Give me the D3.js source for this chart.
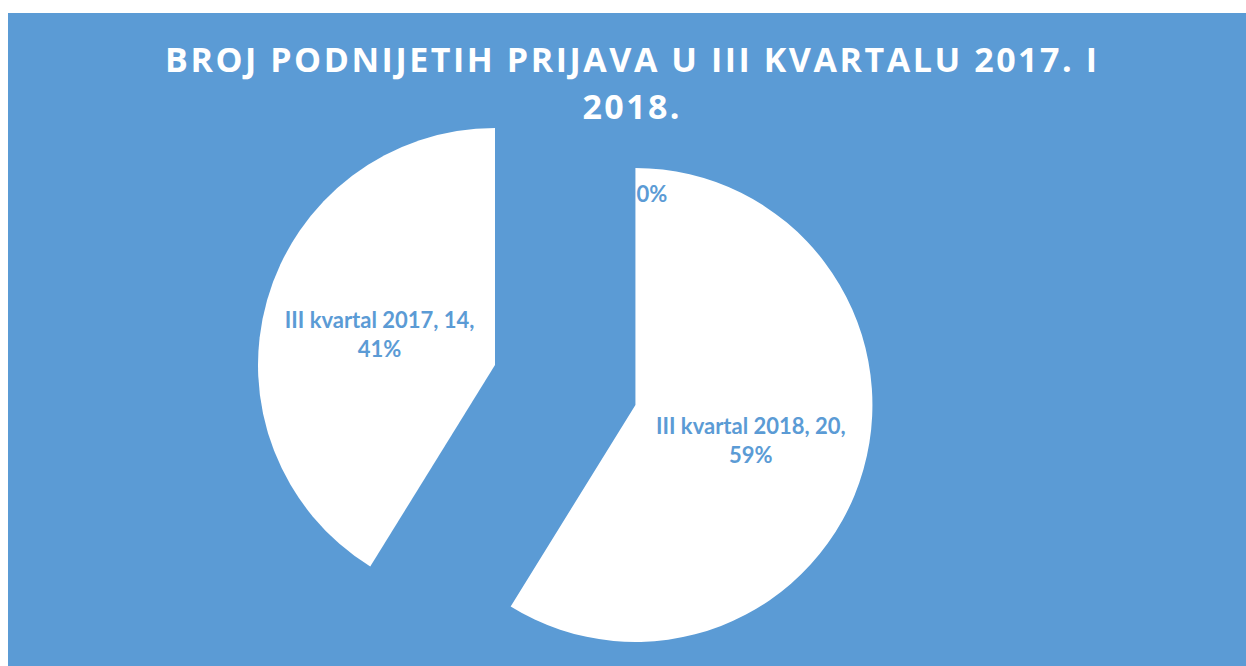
<!DOCTYPE html>
<html>
<head>
<meta charset="utf-8">
<script src="https://cdn.jsdelivr.net/npm/d3@7"></script>
<style>
  body { margin: 0; background: #fff; }
  svg { display: block; }
  .title { font-family: "Open Sans", sans-serif; font-weight: 700; fill: #fff; }
  .lbl { font-family: Lato, "Open Sans", sans-serif; font-weight: 700; fill: #5b9bd5; }
</style>
</head>
<body>
<div id="chart"></div>
<script>
// data, in drawing order (clockwise from 12 o'clock)
const categories = ["", "III kvartal 2018", "III kvartal 2017"];
const values = [0, 20, 14];
const titleLines = ["BROJ PODNIJETIH PRIJAVA U III KVARTALU 2017. I", "2018."];

const W = 1246, H = 666,
    blue = "#5b9bd5",
    center = { x: 495, y: 365 },
    radius = 237,
    explode = [146, 146, 0], // px, per slice
    fontSize = 22;

const formatPct = d3.format(".0%");
const total = d3.sum(values);

const svg = d3.select("#chart").append("svg")
    .attr("width", W)
    .attr("height", H);

// chart area
svg.append("rect")
    .attr("x", 8).attr("y", 13)
    .attr("width", W - 8).attr("height", H - 13)
    .attr("fill", blue);

// title
svg.selectAll("text.title")
    .data(titleLines)
    .join("text")
    .attr("class", "title")
    .attr("x", 631)
    .attr("y", (d, i) => 72 + i * 47)
    .attr("text-anchor", "middle")
    .attr("font-size", 34)
    .attr("textLength", (d, i) => i === 0 ? 932 : 97)
    .attr("lengthAdjust", "spacing")
    .text(d => d);

const pie = d3.pie().sort(null).value(d => d.value);
const rows = categories.map((c, i) => ({ cat: c, value: values[i], idx: i }));
const arcs = pie(rows);

const arc = d3.arc().innerRadius(0).outerRadius(radius);
const labelArc = d3.arc().innerRadius(120).outerRadius(120);

// an empty slice moves along with the slice that follows it
const offset = d => {
    const ref = d.value > 0 ? d : arcs[d.index + 1];
    const a = (ref.startAngle + ref.endAngle) / 2, e = explode[d.data.idx];
    return [center.x + Math.sin(a) * e, center.y - Math.cos(a) * e];
};

// slices
svg.append("g")
    .selectAll("path.slice")
    .data(arcs.filter(d => d.value > 0))
    .join("path")
    .attr("class", "slice")
    .attr("transform", d => `translate(${offset(d)})`)
    .attr("d", arc)
    .attr("fill", "#fff");

// labels, on top of all slices
const labels = svg.append("g")
    .selectAll("g.label")
    .data(arcs)
    .join("g")
    .attr("class", "label")
    .attr("transform", d => `translate(${offset(d)})`);

labels.each(function (d) {
    const g = d3.select(this);
    const pct = formatPct(d.value / total);
    if (d.value === 0) {
        g.append("text")
            .attr("class", "lbl")
            .attr("font-size", fontSize)
            .attr("x", 1)
            .attr("y", -radius + 34)
            .text(pct);
        return;
    }
    const [lx, ly] = labelArc.centroid(d);
    const lines = [`${d.data.cat}, ${d.value},`, pct];
    g.append("text")
        .attr("class", "lbl")
        .attr("font-size", fontSize)
        .attr("text-anchor", "middle")
        .selectAll("tspan")
        .data(lines)
        .join("tspan")
        .attr("x", lx)
        .attr("y", (t, i) => ly - 4 + i * 29)
        .text(t => t);
});
</script>
</body>
</html>
